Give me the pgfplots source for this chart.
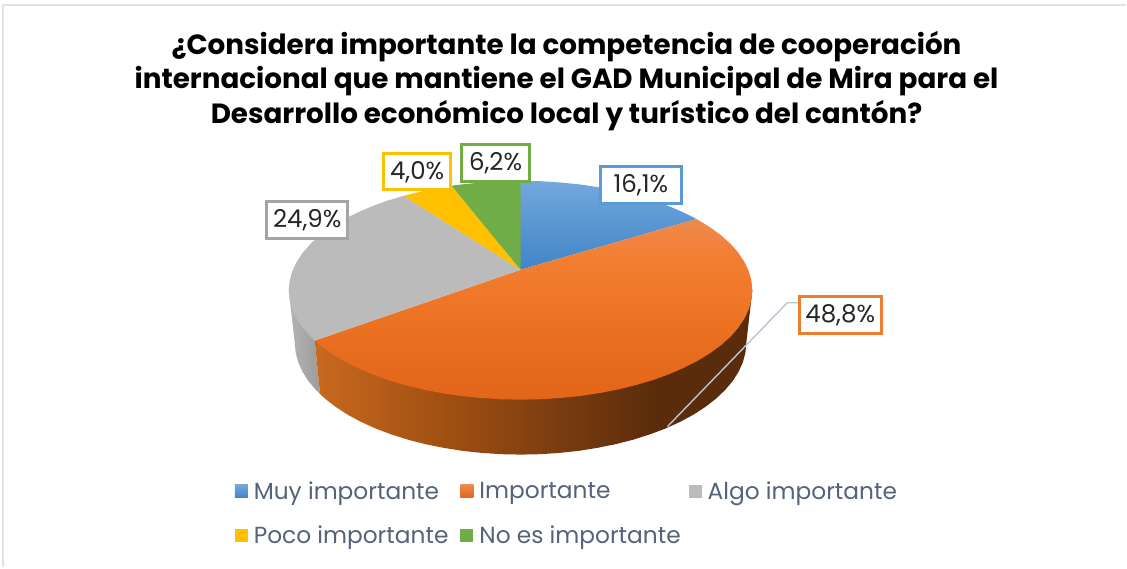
\documentclass[border=0pt]{standalone}
\usepackage{pgfplots}
\pgfplotsset{compat=1.18}
\usepackage{fontspec}
\setmainfont{Poppins}
\definecolor{cblue}{HTML}{5B9BD5}
\definecolor{corange}{HTML}{ED7D31}
\definecolor{cgray}{HTML}{A5A5A5}
\definecolor{cyellow}{HTML}{FFC000}
\definecolor{cgreen}{HTML}{70AD47}
\definecolor{cleg}{HTML}{54627A}
\definecolor{cframe}{HTML}{DFE3EA}
\definecolor{cleader}{HTML}{B8C4D4}
\definecolor{bluetop}{HTML}{73A8DC}
\definecolor{bluebot}{HTML}{4084C8}
\definecolor{ortop}{HTML}{EE8A4E}
\definecolor{ormid}{HTML}{F07828}
\definecolor{orbot}{HTML}{E2651A}
\definecolor{ora}{HTML}{E86C1E}
\definecolor{orb}{HTML}{F28038}
\definecolor{graytop}{HTML}{BBBBBB}
\definecolor{grayl}{HTML}{B4B4B4}
\definecolor{grayr}{HTML}{9C9C9C}
\definecolor{sa}{HTML}{C8691F}
\definecolor{sb}{HTML}{A04F12}
\definecolor{sc}{HTML}{824010}
\definecolor{sd}{HTML}{5B2C0B}
\pgfdeclarehorizontalshading{orangeside}{100bp}{
 color(0bp)=(sa); color(25bp)=(sa); color(40bp)=(sb);
 color(50bp)=(sc); color(64bp)=(sd); color(100bp)=(sd)}
\pgfdeclareverticalshading{orangetop}{100bp}{
 color(0bp)=(orbot); color(25bp)=(orbot); color(38bp)=(ora);
 color(55bp)=(ormid); color(67bp)=(orb); color(75bp)=(ortop); color(100bp)=(ortop)}
\tikzset{
 lab/.style={draw=#1,line width=3pt,fill=white,text=black!85,inner sep=0pt,font=\fontsize{24.5}{24.5}\selectfont,anchor=center}
}
\begin{document}
\begin{tikzpicture}
\begin{axis}[
 scale only axis,width=1127pt,height=568pt,
 xmin=0,xmax=1127,ymin=0,ymax=568,y dir=reverse,
 axis line style={draw=none},ticks=none,clip=false,
 legend style={draw=none,fill=none,at={(axis cs:235,480)},anchor=north west,inner sep=0pt,outer sep=0pt,
   font=\fontsize{23.3}{23.3}\selectfont\color{cleg},row sep=21pt,
   /tikz/column 2/.style={column sep=10pt},
   /tikz/column 4/.style={column sep=6pt}},
 legend columns=3,legend cell align=left,
 legend image code/.code={\path (0pt,0pt) -- (17pt,0pt);\path[#1] (0pt,-6.5pt) rectangle (13pt,6.5pt);},
]
% frame
\addplot[cframe,line width=2pt,forget plot] coordinates {(3.5,568)(3.5,5)(1127,5)};
% side walls
\addplot[draw=none,forget plot,left color=grayl,right color=grayr] coordinates {(289,290.5)(295,343)(295.9,352.8)(298.4,362.4)(302.7,372)(308.6,381.3)(316.2,390.3)(320.3,394.3)(315,340.9)} -- cycle;
\addplot[draw=none,forget plot,shading=orangeside] coordinates {(753,290.5)(747,343)(746.1,352.8)(743.6,362.4)(739.3,372)(733.4,381.3)(725.8,390.3)(716.7,399)(706.1,407.2)(694.1,415)(680.8,422.2)(666.3,428.8)(650.6,434.7)(634,440)(616.5,444.5)(598.3,448.2)(579.5,451.2)(560.2,453.3)(540.7,454.6)(521,455)(501.3,454.6)(481.8,453.3)(462.5,451.2)(443.7,448.2)(425.5,444.5)(408,440)(391.4,434.7)(375.7,428.8)(361.2,422.2)(347.9,415)(335.9,407.2)(325.3,399)(320.3,394.3)(315,340.9)} -- cycle;
% top: Muy importante 16,1
\addplot[draw=none,forget plot,top color=bluetop,bottom color=bluebot] coordinates {(521,270)(521,181)(541.2,181.4)(561.3,182.7)(581,184.7)(600.3,187.6)(619,191.3)(637,195.7)(654.1,200.8)(670.1,206.6)(685,213.1)(697.1,219.2)} -- cycle;
% top: Importante 48,8
\addplot[draw=none,forget plot,shading=orangetop] coordinates {(521,270)(697.1,219.2)(698.7,220.1)(711,227.7)(721.9,235.7)(731.3,244.2)(739,253)(745.1,262.2)(749.5,271.5)(752.1,281)(753,290.5)(752.1,300)(749.5,309.5)(745.1,318.8)(739,328)(731.3,336.8)(721.9,345.3)(711,353.3)(698.7,360.9)(685,367.9)(670.1,374.4)(654.1,380.2)(637,385.3)(619,389.7)(600.3,393.4)(581,396.3)(561.3,398.3)(541.2,399.6)(521,400)(500.8,399.6)(480.7,398.3)(461,396.3)(441.7,393.4)(423,389.7)(405,385.3)(387.9,380.2)(371.9,374.4)(357,367.9)(343.3,360.9)(331,353.3)(320.1,345.3)(315,340.9)} -- cycle;
% top: Algo importante 24,9
\addplot[draw=none,forget plot,fill=graytop] coordinates {(521,270)(315,340.9)(310.7,336.8)(303,328)(296.9,318.8)(292.5,309.5)(289.9,300)(289,290.5)(289.9,281)(292.5,271.5)(296.9,262.2)(303,253)(310.7,244.2)(320.1,235.7)(331,227.7)(343.3,220.1)(357,213.1)(371.9,206.6)(387.9,200.8)(404,196)} -- cycle;
% top: Poco importante 4,0
\addplot[draw=none,forget plot,fill=cyellow] coordinates {(521,270)(404,196)(405,195.7)(423,191.3)(441.7,187.6)(452,185.9)} -- cycle;
% top: No es importante 6,2
\addplot[draw=none,forget plot,fill=cgreen] coordinates {(521,270)(452,185.9)(461,184.7)(480.7,182.7)(500.8,181.4)(521,181)} -- cycle;
% leader
\addplot[cleader,line width=1.4pt,forget plot] coordinates {(799,303)(788,303)(668,427)};
% labels
\node[lab=cblue,minimum width=81pt,minimum height=37pt] at (axis cs:641.5,185) {16,1\%};
\node[lab=corange,minimum width=82pt,minimum height=37pt] at (axis cs:841,315.5) {48,8\%};
\node[lab=cgray,minimum width=81pt,minimum height=37pt] at (axis cs:307.5,220.5) {24,9\%};
\node[lab=cyellow,minimum width=67pt,minimum height=36pt] at (axis cs:417.5,172) {4,0\%};
\node[lab=cgreen,minimum width=68pt,minimum height=37pt] at (axis cs:496,163.5) {6,2\%};
% title
\node[anchor=center,align=center,text=black,font=\fontsize{27.8}{34.5}\selectfont\bfseries] at (axis cs:567,81) {¿Considera importante la competencia de cooperación\\internacional que mantiene el GAD Municipal de Mira para el\\Desarrollo económico local y turístico del cantón?};
% legend
\addlegendimage{draw=none,top color=bluetop,bottom color=bluebot}
\addlegendentry{Muy importante}
\addlegendimage{draw=none,top color=ortop,bottom color=orbot}
\addlegendentry{Importante\vphantom{y}}
\addlegendimage{draw=none,fill=graytop}
\addlegendentry{Algo importante}
\addlegendimage{draw=none,fill=cyellow}
\addlegendentry{Poco importante}
\addlegendimage{draw=none,fill=cgreen}
\addlegendentry{No es importante}
\end{axis}
\end{tikzpicture}
\end{document}
